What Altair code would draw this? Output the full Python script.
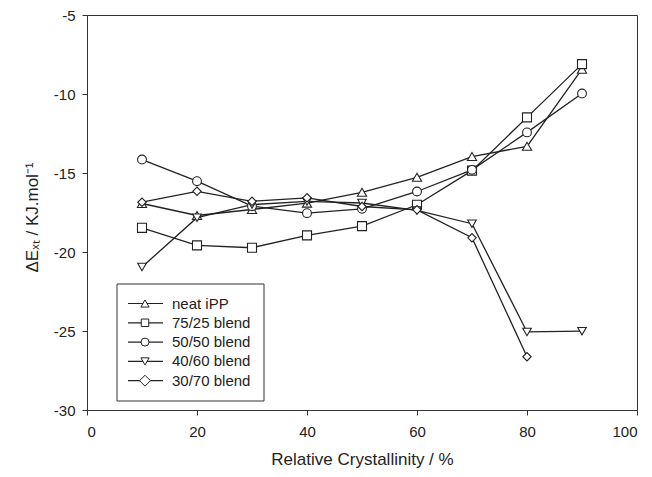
import altair as alt
import pandas as pd

crystallinity = [10, 20, 30, 40, 50, 60, 70, 80, 90]
series_names = ["neat iPP", "75/25 blend", "50/50 blend", "40/60 blend", "30/70 blend"]
series_shapes = ["triangle-up", "square", "circle", "triangle-down", "diamond"]
neat_ipp = [-16.93, -17.69, -17.31, -16.91, -16.22, -15.27, -13.96, -13.31, -8.43]
blend_75_25 = [-18.47, -19.58, -19.73, -18.95, -18.36, -17.01, -14.85, -11.48, -8.11]
blend_50_50 = [-14.15, -15.52, -17.10, -17.54, -17.27, -16.17, -14.80, -12.43, -9.97]
blend_40_60 = [-20.95, -17.83, -17.00, -16.80, -16.90, -17.37, -18.21, -25.06, -25.01]
blend_30_70 = [-16.85, -16.16, -16.79, -16.57, -17.12, -17.33, -19.10, -26.63]
x_ticks = [0, 20, 40, 60, 80, 100]
y_ticks = [-30, -25, -20, -15, -10, -5]

marker_sizes = [85, 70, 80, 85, 150]

all_values = [neat_ipp, blend_75_25, blend_50_50, blend_40_60, blend_30_70]
rows = []
for name, shp, vals in zip(series_names, series_shapes, all_values):
    for xv, yv in zip(crystallinity, vals):
        rows.append({"series": name, "shape": shp, "x": xv, "y": yv})
df = pd.DataFrame(rows)

INK = "#222222"
FONT = "Liberation Sans"

x_enc = alt.X("x:Q", scale=alt.Scale(domain=[0, 100], nice=False),
              axis=alt.Axis(values=x_ticks, title="Relative Crystallinity / %",
                            labelExpr="'' + datum.value", labelPadding=9,
                            titleY=49, titleBaseline="middle"))
y_enc = alt.Y("y:Q", scale=alt.Scale(domain=[-30, -5], nice=False),
              axis=alt.Axis(values=y_ticks, title="ΔEₓₜ / KJ.mol⁻¹",
                            labelExpr="'' + datum.value", labelPadding=7,
                            titleX=-55, titleY=202, titleBaseline="middle"))

lines = alt.Chart(df).mark_line(color=INK, strokeWidth=1.3).encode(
    x=x_enc, y=y_enc, detail="series:N", order="x:Q")
points = alt.Chart(df).mark_point(filled=True, fill="white", stroke=INK,
                                  strokeWidth=1.1, opacity=1).encode(
    x="x:Q", y="y:Q", shape=alt.Shape("shape:N", scale=None),
    size=alt.Size("shape:N", scale=alt.Scale(domain=series_shapes, range=marker_sizes),
                  legend=None))

layers = [lines, points]

# legend box
one = alt.Data(values=[{"a": 1}])
layers.append(alt.Chart(one).mark_rect(fill="white", stroke="#333333", strokeWidth=1).encode(
    x=alt.value(30), x2=alt.value(177), y=alt.value(269), y2=alt.value(386)))
for i, (name, shp, sz) in enumerate(zip(series_names, series_shapes, marker_sizes)):
    py = 288.5 + i * 19.3
    layers.append(alt.Chart(one).mark_rule(color=INK, strokeWidth=1.2).encode(
        x=alt.value(41), x2=alt.value(76), y=alt.value(py)))
    layers.append(alt.Chart(one).mark_point(shape=shp, filled=True, fill="white", stroke=INK,
                                            strokeWidth=1, size=sz * 0.8, opacity=1).encode(
        x=alt.value(58), y=alt.value(py)))
    layers.append(alt.Chart(one).mark_text(text=name, align="left", baseline="middle",
                                           font=FONT, fontSize=15, color=INK).encode(
        x=alt.value(85), y=alt.value(py)))

chart = alt.layer(*layers).properties(
    width=550, height=395,
    padding={"left": 79, "top": 7, "right": 7, "bottom": 59},
    autosize="none",
).configure_view(stroke="#333333", strokeWidth=1).configure_axis(
    grid=False, domainColor="#333333", tickColor="#333333", tickSize=5,
    labelFont=FONT, labelFontSize=15, labelColor=INK,
    titleFont=FONT, titleFontSize=17, titleFontWeight="normal", titleColor=INK,
)

chart.save("out.html", embed_options={"renderer": "svg", "actions": False})
